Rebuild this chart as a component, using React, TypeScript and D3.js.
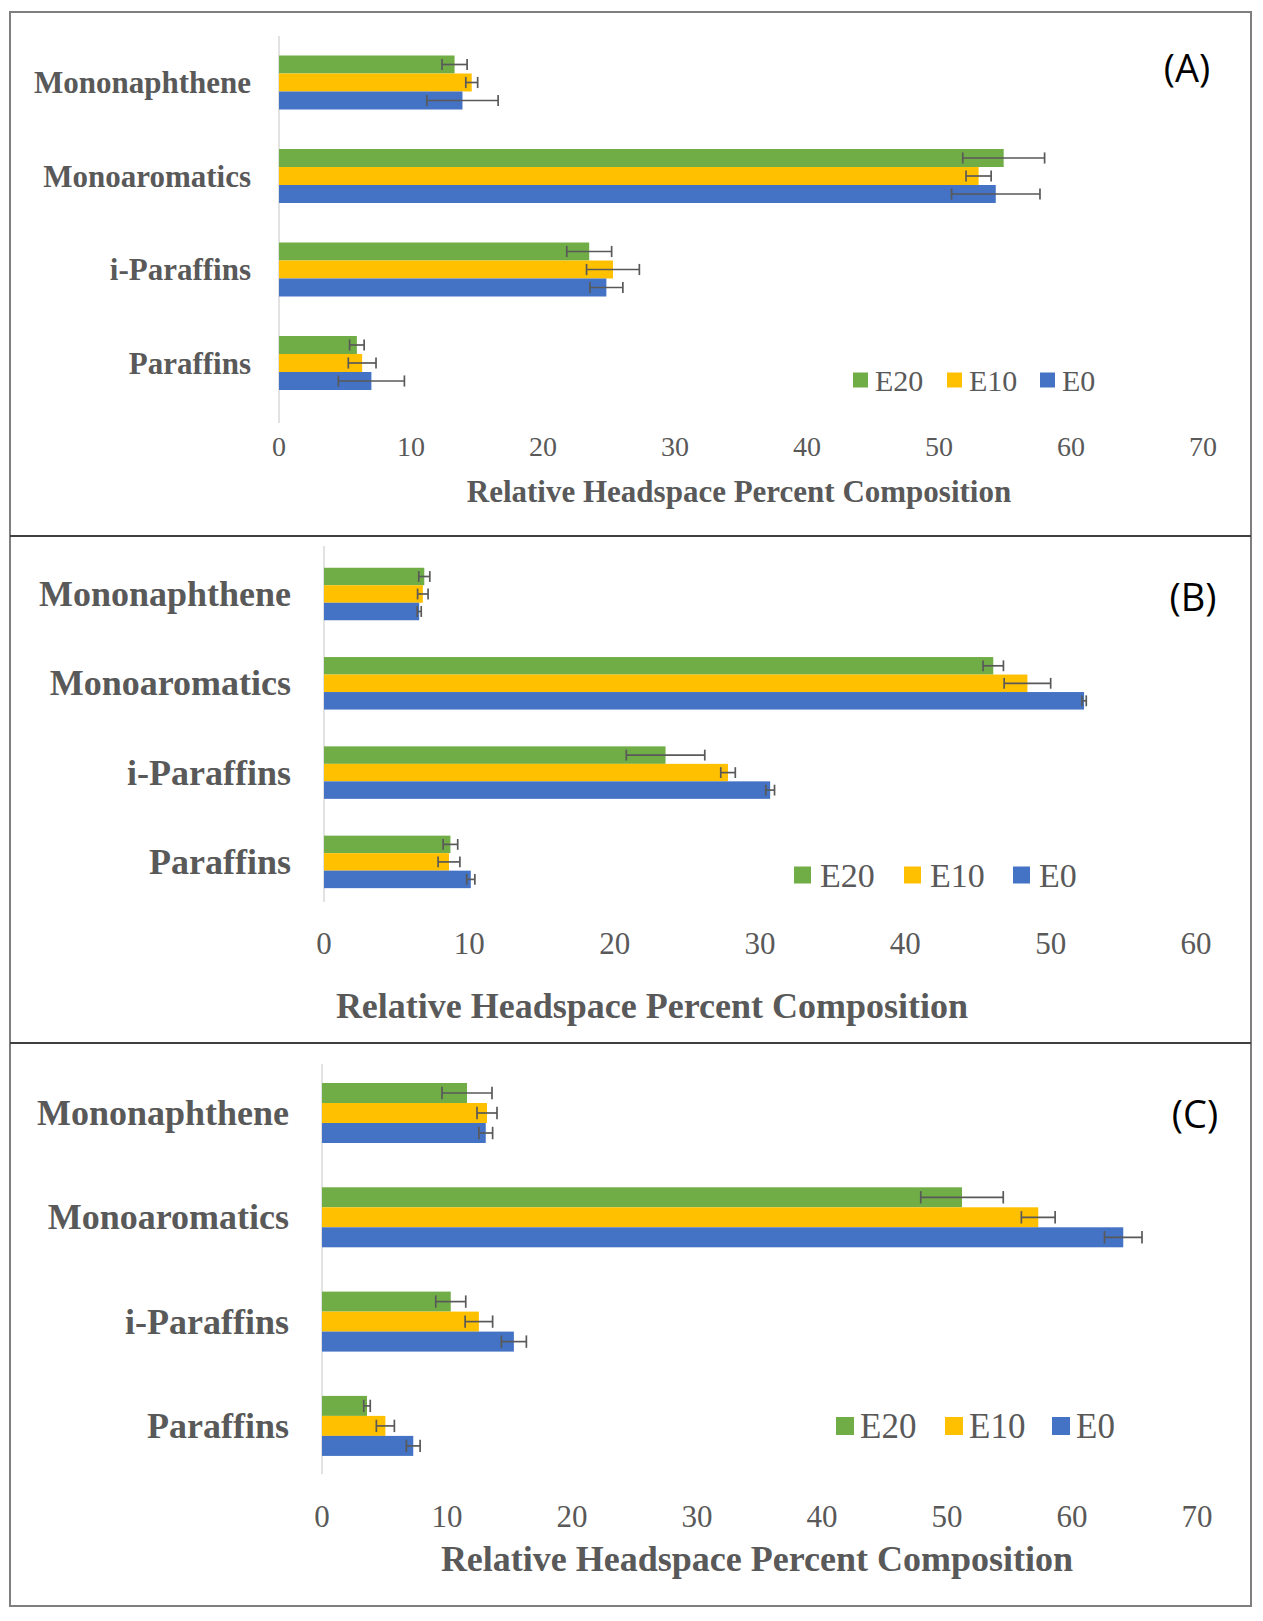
import React from "react";
import * as d3 from "d3";

// Categories, top to bottom
const categories = ["Mononaphthene", "Monoaromatics", "i-Paraffins", "Paraffins"];
const seriesNames = ["E20", "E10", "E0"];
const seriesColors = ["#70AD47", "#FFC000", "#4472C4"];
const panelTags = ["(A)", "(B)", "(C)"];
const axisTitle = "Relative Headspace Percent Composition";

// Panel A values (mean and error)
const aE20 = [13.3, 54.9, 23.5, 5.9];
const aE20Err = [0.95, 3.1, 1.7, 0.55];
const aE10 = [14.6, 53.0, 25.3, 6.3];
const aE10Err = [0.45, 0.95, 2.0, 1.05];
const aE0 = [13.9, 54.3, 24.8, 7.0];
const aE0Err = [2.7, 3.35, 1.25, 2.5];

// Panel B
const bE20 = [6.9, 46.05, 23.5, 8.7];
const bE20Err = [0.38, 0.7, 2.7, 0.5];
const bE10 = [6.8, 48.4, 27.8, 8.6];
const bE10Err = [0.36, 1.6, 0.5, 0.75];
const bE0 = [6.55, 52.3, 30.7, 10.1];
const bE0Err = [0.14, 0.15, 0.3, 0.28];

// Panel C
const cE20 = [11.6, 51.2, 10.3, 3.6];
const cE20Err = [2.0, 3.3, 1.2, 0.26];
const cE10 = [13.2, 57.3, 12.55, 5.07];
const cE10Err = [0.8, 1.35, 1.1, 0.72];
const cE0 = [13.1, 64.1, 15.35, 7.3];
const cE0Err = [0.55, 1.5, 1.0, 0.55];

const panelValues = [
  [aE20, aE10, aE0],
  [bE20, bE10, bE0],
  [cE20, cE10, cE0],
];
const panelErrors = [
  [aE20Err, aE10Err, aE0Err],
  [bE20Err, bE10Err, bE0Err],
  [cE20Err, cE10Err, cE0Err],
];
const panelMax = [70, 60, 70];

// layout per panel
const layouts = [
  {
    x0: 279, x1: 1203, c0: 82.5, step: 93.5, barH: 18, axisTop: 36, axisBottom: 423,
    labelRight: 251, labelSize: 31, tickY: 446, tickSize: 28, titleX: 739, titleY: 491, titleSize: 31,
    legendY: 380, legendSize: 30, square: 15, gap: 7, legendXs: [853, 947, 1040], tagX: 1187, tagY: 67,
  },
  {
    x0: 324, x1: 1196, c0: 594, step: 89.3, barH: 17.5, axisTop: 546, axisBottom: 902,
    labelRight: 291, labelSize: 36, tickY: 943, tickSize: 31, titleX: 652, titleY: 1006, titleSize: 36,
    legendY: 875, legendSize: 34, square: 17, gap: 9, legendXs: [794, 904, 1013], tagX: 1193, tagY: 596,
  },
  {
    x0: 322, x1: 1197, c0: 1113, step: 104.3, barH: 20, axisTop: 1064, axisBottom: 1474,
    labelRight: 289, labelSize: 36, tickY: 1516, tickSize: 31, titleX: 757, titleY: 1559, titleSize: 36,
    legendY: 1426, legendSize: 35, square: 18, gap: 6, legendXs: [836, 945, 1052], tagX: 1195, tagY: 1113,
  },
];

const textColor = "#595959";
const serif = "'Liberation Serif', 'Times New Roman', serif";

function Panel({ idx }: { idx: number }) {
  const L = layouts[idx];
  const values = panelValues[idx];
  const errors = panelErrors[idx];
  const n = categories.length;

  const x = d3.scaleLinear().domain([0, panelMax[idx]]).range([L.x0, L.x1]);
  const pad = 1 - (seriesNames.length * L.barH) / L.step;
  const y = d3
    .scaleBand<string>()
    .domain(categories)
    .range([L.c0 - L.step / 2, L.c0 + L.step * (n - 0.5)])
    .paddingInner(pad)
    .paddingOuter(pad / 2);
  const ySub = d3.scaleBand<string>().domain(seriesNames).range([0, y.bandwidth()]);
  const capH = L.barH * 0.62;

  return (
    <g>
      {/* zero axis line */}
      <line x1={x(0)} x2={x(0)} y1={L.axisTop} y2={L.axisBottom} stroke="#D9D9D9" strokeWidth={1.5} />

      {categories.map((cat, ci) => (
        <g key={cat}>
          {seriesNames.map((s, si) => {
            const v = values[si][ci];
            const e = errors[si][ci];
            const by = (y(cat) || 0) + (ySub(s) || 0);
            const cy = by + ySub.bandwidth() / 2;
            return (
              <g key={s}>
                <rect
                  x={x(0)}
                  y={by}
                  width={x(v) - x(0)}
                  height={ySub.bandwidth()}
                  fill={seriesColors[si]}
                />
                <line x1={x(v - e)} x2={x(v + e)} y1={cy} y2={cy} stroke={textColor} strokeWidth={1.7} />
                <line x1={x(v - e)} x2={x(v - e)} y1={cy - capH / 2} y2={cy + capH / 2} stroke={textColor} strokeWidth={1.7} />
                <line x1={x(v + e)} x2={x(v + e)} y1={cy - capH / 2} y2={cy + capH / 2} stroke={textColor} strokeWidth={1.7} />
              </g>
            );
          })}
          <text
            x={L.labelRight}
            y={(y(cat) || 0) + y.bandwidth() / 2}
            textAnchor="end"
            dominantBaseline="central"
            fontFamily={serif}
            fontWeight="bold"
            fontSize={L.labelSize}
            fill={textColor}
          >
            {cat}
          </text>
        </g>
      ))}

      {/* tick labels */}
      {x.ticks(panelMax[idx] / 10).map((t) => (
        <text
          key={t}
          x={x(t)}
          y={L.tickY}
          textAnchor="middle"
          dominantBaseline="central"
          fontFamily={serif}
          fontSize={L.tickSize}
          fill={textColor}
        >
          {t}
        </text>
      ))}

      <text
        x={L.titleX}
        y={L.titleY}
        textAnchor="middle"
        dominantBaseline="central"
        fontFamily={serif}
        fontWeight="bold"
        fontSize={L.titleSize}
        fill={textColor}
      >
        {axisTitle}
      </text>

      {/* legend */}
      {seriesNames.map((s, si) => (
        <g key={s}>
          <rect
            x={L.legendXs[si]}
            y={L.legendY - L.square / 2}
            width={L.square}
            height={L.square}
            fill={seriesColors[si]}
          />
          <text
            x={L.legendXs[si] + L.square + L.gap}
            y={L.legendY}
            dominantBaseline="central"
            fontFamily={serif}
            fontSize={L.legendSize}
            fill={textColor}
          >
            {s}
          </text>
        </g>
      ))}

      <text
        x={L.tagX}
        y={L.tagY}
        textAnchor="middle"
        dominantBaseline="central"
        fontFamily="'Open Sans', 'Liberation Sans', Arial, sans-serif"
        fontSize={38}
        fill="#000"
      >
        {panelTags[idx]}
      </text>
    </g>
  );
}

export default function App() {
  const width = 1263;
  const height = 1621;
  return (
    <div style={{ position: "absolute", left: 0, top: 0 }}>
      <svg width={width} height={height} style={{ display: "block", background: "#fff" }}>
        <rect x={10} y={12} width={1241} height={1594} fill="none" stroke="#7F7F7F" strokeWidth={2} />
        <line x1={10} x2={1251} y1={536} y2={536} stroke="#404040" strokeWidth={2} />
        <line x1={10} x2={1251} y1={1043} y2={1043} stroke="#404040" strokeWidth={2} />
        {[0, 1, 2].map((i) => (
          <Panel key={i} idx={i} />
        ))}
      </svg>
    </div>
  );
}
